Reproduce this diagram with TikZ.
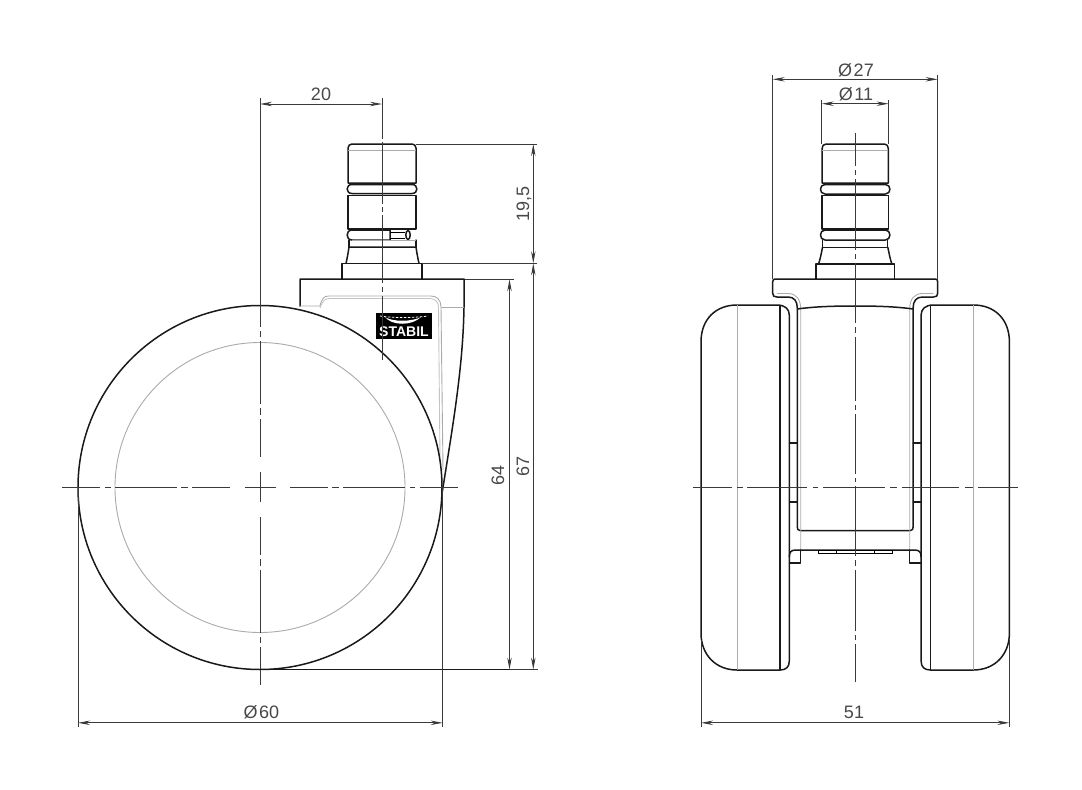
\documentclass[tikz,border=0pt]{standalone}
\usepackage{fontspec}
\setmainfont{Liberation Sans}
\usetikzlibrary{arrows.meta}
\definecolor{dimc}{HTML}{3A3A3A}
\definecolor{txtc}{HTML}{484848}
\definecolor{thinc}{HTML}{ABABAB}
\tikzset{
  thickl/.style={draw=black!90,line width=1.5pt,line cap=round,line join=round},
  thinl/.style={draw=thinc,line width=0.9pt},
  axisl/.style={draw=dimc,line width=0.95pt},
  extl/.style={draw=dimc,line width=0.8pt},
  diml/.style={draw=dimc,line width=0.8pt,{Stealth[length=12pt,width=4.4pt]}-{Stealth[length=12pt,width=4.4pt]}},
  dimtxt/.style={text=txtc,font=\fontsize{18}{18}\selectfont,inner sep=0pt},
}
\newcommand{\halfview}{%
  % wheel
  \path[thickl] (701,342) .. controls (701,319) and (716,305) .. (737,305) -- (777,305)
    .. controls (785,305) and (789.3,309) .. (789.3,315) -- (789.3,661)
    .. controls (789.3,667) and (786,670) .. (780,670) -- (737,670)
    .. controls (716,670) and (701,655) .. (701,633) -- cycle;
  \path[thickl,line width=1.2pt] (780,306) -- (780,670);
  \path[thinl] (737,305) -- (737,670);
  % fork
  \path[thickl] (855.2,279) -- (775,279) .. controls (773.5,279) and (772.7,280) .. (772.7,282)
    -- (772.7,293) .. controls (772.7,296) and (774,297) .. (777,297) -- (788,297)
    .. controls (794,297) and (797.3,301) .. (797.3,308) -- (797.3,527)
    .. controls (797.3,529) and (798,530.5) .. (800,530.5) -- (855.2,530.5);
  \path[thinl] (777,293.5) -- (788,293.5) .. controls (796,293.5) and (800.7,299) .. (800.7,309) -- (800.7,552);
  \path[thickl] (797.3,309) .. controls (815,306.5) and (835,306) .. (855.2,306);
  \path[thickl,line width=1.1pt] (789.3,443) -- (797.3,443) (789.3,502) -- (797.3,502);
  % bottom bridge
  \path[thickl] (789.3,557) .. controls (789.3,552) and (791,550) .. (796,550) -- (855.2,550);
  \path[thickl,line width=1.1pt] (789.3,563) -- (800.7,563) -- (800.7,550);
  \path[draw=black,line width=0.7pt] (818.3,550.5) rectangle (836.5,553.3) (836.5,550.5) rectangle (855.2,553.3);
  % stem
  \path[thickl] (855.2,144) -- (826,144) .. controls (823.5,144) and (822,146) .. (822,149) -- (822,183) -- (855.2,183);
  \path[thinl] (822,150) -- (855.2,150);
  \path[thickl] (855.2,184.5) -- (825,184.5) .. controls (819,184.5) and (819,194) .. (825,194) -- (855.2,194);
  \path[thickl,line width=1.1pt] (855.2,195.5) -- (822,195.5) -- (822,229) -- (855.2,229);
  \path[thickl] (855.2,230) -- (825,230) .. controls (819,230) and (819,240) .. (825,240) -- (855.2,240);
  \path[thickl,line width=1.1pt] (822.5,240) -- (822.5,247.5) -- (855.2,247.5);
  \path[thickl] (822.5,247.5) .. controls (821,255) and (820,260) .. (818.5,264);
  \path[thickl] (855.2,264) -- (816,264) -- (816,279);
}
\begin{document}
\begin{tikzpicture}[x=1pt,y=-1pt]
\useasboundingbox (0,0) rectangle (1082,790);
% ---------- LEFT VIEW: swivel plate
\path[thickl] (300,306) -- (300,279) -- (464,279) -- (464,307)
  .. controls (463,370) and (452,430) .. (441,500);
\path[thinl] (441,307) -- (464,307);
\path[thinl] (300,306) -- (320,306) .. controls (322,298) and (324,296) .. (329,296) -- (431,296)
  .. controls (437,296) and (441,300) .. (441,307) -- (443,470);
\path[thinl,draw=thinc!70] (320,308) .. controls (323,300) and (325,298.5) .. (330,298.5) -- (430,298.5)
  .. controls (435,298.5) and (438.5,302) .. (438.5,307) -- (440,460);
% logo
\path[fill=black] (376,313) rectangle (432,339);
\path[fill=white] (385,317) .. controls (392,326) and (412,326) .. (421,317)
  .. controls (412,322) and (392,322) .. (385,317) -- cycle;
\path[draw=white,line width=0.8pt,dash pattern=on 2.5pt off 1.5pt] (380,316) .. controls (392,318) and (414,318) .. (428,316);
\node[text=white,font=\fontsize{14}{14}\bfseries\selectfont,inner sep=0pt] (logotext) at (404,332) {STABIL};
% wheel
\path[thickl,fill=white] (260,487.5) circle[radius=182];
\path[thinl] (260,487.5) circle[radius=145];
% stem left view
\path[thickl] (348,183) -- (348,148) .. controls (348,145.5) and (350,144) .. (352,144) -- (412,144)
  .. controls (414,144) and (416,145.5) .. (416,148) -- (416,183) -- cycle;
\path[thinl] (348,150) -- (416,150);
\path[thickl] (352,184.5) -- (412,184.5) .. controls (418.5,184.5) and (418.5,193.5) .. (412,193.5) -- (352,193.5)
  .. controls (345.5,193.5) and (345.5,184.5) .. (352,184.5) -- cycle;
\path[thickl,line width=1.1pt] (348,229) -- (348,195.5) -- (416,195.5) -- (416,229) -- cycle;
\path[thickl] (390,230) -- (352,230) .. controls (345.5,230) and (345.5,240) .. (352,240) -- (390,240) -- cycle;
\path[draw=black,line width=0.7pt] (390,232) -- (405,232) (390,238) -- (405,238);
\path[thickl] (408,235) ellipse[x radius=2.2,y radius=4.5];
\path[thickl,line width=1.1pt] (349,240) -- (349,247) (416,240) -- (416,247);
\path[thinl] (352,240) -- (416,240);
\path[thickl] (349,247) -- (416,247) .. controls (417,254) and (418,259) .. (419,263.5)
  (349,247) .. controls (348,254) and (347,259) .. (346,263.5);
\path[thickl] (342,279) -- (342,263.5) -- (422,263.5) -- (422,279);
% ---------- RIGHT VIEW
\halfview
\begin{scope}[shift={(1710.4,0)},xscale=-1]
\halfview
\end{scope}
% ---------- axes, left view
\path[axisl] (62,487.5) -- (100,487.5) (105,487.5) -- (111,487.5) (115,487.5) -- (177,487.5)
  (181,487.5) -- (188,487.5) (192,487.5) -- (230,487.5) (245,487.5) -- (276,487.5)
  (290,487.5) -- (328,487.5) (332,487.5) -- (339,487.5) (343,487.5) -- (405,487.5)
  (410,487.5) -- (415,487.5) (420,487.5) -- (458,487.5);
\path[axisl] (260,98) -- (260,327) (260,331) -- (260,337) (260,341) -- (260,404) (260,408) -- (260,415)
  (260,419) -- (260,457) (260,472) -- (260,502) (260,517) -- (260,555) (260,559) -- (260,566)
  (260,570) -- (260,633) (260,637) -- (260,643) (260,647) -- (260,685);
\path[axisl] (382,98) -- (382,139) (382,142) -- (382,204) (382,207) -- (382,212) (382,215) -- (382,283)
  (382,287) -- (382,292) (382,296) -- (382,360);
% ---------- axes, right view
\path[axisl] (693,487.5) -- (732,487.5) (737,487.5) -- (743,487.5) (747,487.5) -- (807,487.5)
  (813,487.5) -- (818,487.5) (823,487.5) -- (885,487.5) (890,487.5) -- (897,487.5)
  (902,487.5) -- (959,487.5) (965,487.5) -- (973,487.5) (978,487.5) -- (1018,487.5);
\path[axisl] (855.2,133) -- (855.2,166) (855.2,170) -- (855.2,175) (855.2,179) -- (855.2,250)
  (855.2,254) -- (855.2,259) (855.2,263) -- (855.2,323) (855.2,327) -- (855.2,333)
  (855.2,337) -- (855.2,401) (855.2,405) -- (855.2,410) (855.2,414) -- (855.2,474)
  (855.2,478) -- (855.2,482) (855.2,486) -- (855.2,556) (855.2,560) -- (855.2,566)
  (855.2,570) -- (855.2,631) (855.2,635) -- (855.2,640) (855.2,644) -- (855.2,682);
% ---------- extension lines
\path[extl] (416,144) -- (537,144) (422,263.3) -- (537,263.3) (465,279.3) -- (514,279.3);
\path[thickl,line width=1pt] (260,669.6) -- (509.5,669.6);
\path[extl] (509.5,669.6) -- (538,669.6);
\path[extl] (78,487.5) -- (78,727) (442.7,487.5) -- (442.7,727);
\path[extl] (701,640) -- (701,727) (1009.4,640) -- (1009.4,727);
\path[extl] (772.7,279) -- (772.7,75) (937.7,279) -- (937.7,75);
\path[extl] (821.7,144) -- (821.7,100) (888.7,144) -- (888.7,100);
% ---------- dimensions
\path[diml] (260,104) -- (382,104);
\path[diml] (533.3,144) -- (533.3,263.3);
\path[diml] (533.3,263.3) -- (533.3,669.6);
\path[diml] (509.5,279.3) -- (509.5,669.6);
\path[diml] (78,722.8) -- (442.7,722.8);
\path[diml] (701,722.8) -- (1009.4,722.8);
\path[diml] (772.7,79.3) -- (937.7,79.3);
\path[diml] (821.7,103.7) -- (888.7,103.7);
\node[dimtxt] (t20) at (321,94) {20};
\node[dimtxt,rotate=90] (t195) at (524,204) {19,5};
\node[dimtxt,rotate=90] (t67) at (523,466.5) {67};
\node[dimtxt,rotate=90] (t64) at (498,475) {64};
\node[dimtxt] (t60) at (261.5,712) {Ø\kern1.5pt 60};
\node[dimtxt] (t51) at (854,712) {51};
\node[dimtxt] (t27) at (856,70) {Ø\kern1.5pt 27};
\node[dimtxt] (t11) at (856,94) {Ø\kern1.5pt 11};
\end{tikzpicture}
\end{document}
